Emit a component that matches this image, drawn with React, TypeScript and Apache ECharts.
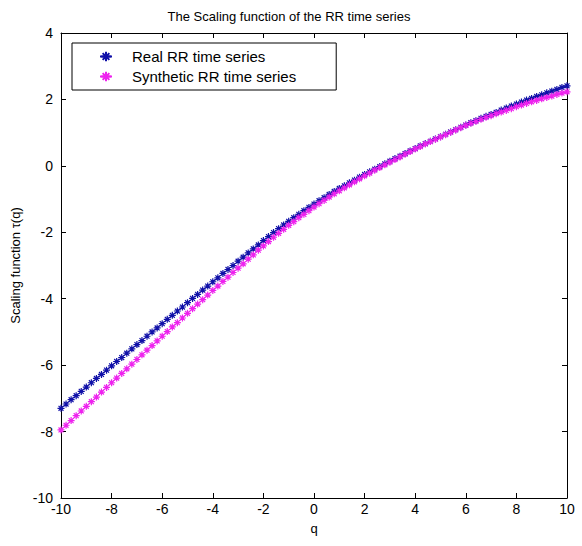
import React, { useEffect, useRef } from "react";
import * as echarts from "echarts";

const TITLE = "The Scaling function of the RR time series";
const X_NAME = "q";
const Y_NAME = "Scaling function \u03c4(q)";
const SERIES_NAMES = ["Real RR time series", "Synthetic RR time series"];

const Q = Array.from({ length: 101 }, (_, i) => Math.round((-10 + i * 0.2) * 10) / 10);

const REAL = [
  -7.30, -7.17, -7.04, -6.92, -6.79, -6.66, -6.53, -6.40, -6.28, -6.15, -6.02,
  -5.89, -5.77, -5.64, -5.51, -5.38, -5.26, -5.13, -5.00, -4.88, -4.75,
  -4.62, -4.50, -4.37, -4.25, -4.12, -3.99, -3.87, -3.74, -3.62, -3.49,
  -3.37, -3.24, -3.12, -3.00, -2.87, -2.75, -2.62, -2.50, -2.38, -2.25,
  -2.13, -2.01, -1.89, -1.78, -1.67, -1.56, -1.46, -1.35, -1.25, -1.15,
  -1.05, -0.96, -0.86, -0.77, -0.68, -0.60, -0.51, -0.43, -0.34, -0.26,
  -0.18, -0.10, -0.02, 0.06, 0.14, 0.22, 0.29, 0.37, 0.45, 0.52,
  0.60, 0.67, 0.74, 0.81, 0.88, 0.95, 1.02, 1.09, 1.16, 1.23,
  1.30, 1.36, 1.43, 1.49, 1.55, 1.61, 1.68, 1.74, 1.80, 1.86,
  1.92, 1.98, 2.03, 2.09, 2.14, 2.20, 2.25, 2.30, 2.36, 2.41,
];

const SYNTH = [
  -7.95, -7.81, -7.67, -7.52, -7.38, -7.24, -7.10, -6.96, -6.81, -6.67, -6.53,
  -6.39, -6.25, -6.11, -5.97, -5.83, -5.69, -5.55, -5.41, -5.27, -5.13,
  -4.99, -4.85, -4.72, -4.58, -4.44, -4.30, -4.16, -4.03, -3.89, -3.75,
  -3.62, -3.48, -3.35, -3.21, -3.08, -2.95, -2.81, -2.68, -2.54, -2.41,
  -2.28, -2.15, -2.03, -1.91, -1.79, -1.68, -1.56, -1.46, -1.35, -1.24,
  -1.14, -1.04, -0.94, -0.84, -0.75, -0.66, -0.57, -0.48, -0.39, -0.30,
  -0.22, -0.13, -0.05, 0.03, 0.11, 0.19, 0.27, 0.35, 0.43, 0.51,
  0.58, 0.66, 0.73, 0.80, 0.87, 0.94, 1.01, 1.08, 1.15, 1.22,
  1.28, 1.34, 1.40, 1.46, 1.51, 1.57, 1.62, 1.67, 1.72, 1.78,
  1.83, 1.88, 1.93, 1.97, 2.02, 2.06, 2.10, 2.15, 2.19, 2.23,
];

const COLORS = ["#1010a8", "#ee22ee"];
const STAR = "path://M5,0L5,10M0,5L10,5M1.5,1.5L8.5,8.5M1.5,8.5L8.5,1.5";
const FONT = "'Liberation Sans Narrow', 'Liberation Sans', Arial, sans-serif";

export default function App() {
  const ref = useRef<HTMLDivElement>(null);
  useEffect(() => {
    if (!ref.current) return;
    const chart = echarts.init(ref.current, null, { renderer: "svg" });
    const axisCommon = {
      axisLine: { show: true, onZero: false, lineStyle: { color: "#000", width: 1 } },
      axisTick: { show: true, inside: true, length: 5, lineStyle: { color: "#000" } },
      splitLine: { show: false },
    };
    const mkSeries = (name: string, vals: number[], color: string) => ({
      name,
      type: "line",
      data: Q.map((q, i) => [q, vals[i]]),
      symbol: STAR,
      symbolSize: 7,
      showSymbol: true,
      itemStyle: { color: "rgba(0,0,0,0)", borderColor: color, borderWidth: 1.2 },
      lineStyle: { color, width: 1 },
      emphasis: { disabled: true },
    });
    chart.setOption({
      animation: false,
      backgroundColor: "#fff",
      title: {
        text: TITLE,
        left: 284,
        top: 5,
        textAlign: "center",
        textStyle: { fontFamily: FONT, fontSize: 13, fontWeight: "normal", color: "#000" },
      },
      legend: {
        orient: "vertical",
        left: 72,
        top: 43,
        width: 237,
        padding: [6, 40, 6, 27],
        itemGap: 5,
        itemWidth: 12,
        itemHeight: 12,
        borderColor: "#000",
        borderWidth: 1,
        backgroundColor: "#fff",
        textStyle: { fontFamily: FONT, fontSize: 15, color: "#000", padding: [0, 0, 0, 15] },
        data: SERIES_NAMES,
      },
      grid: { left: 61, right: 15, top: 33, bottom: 48 },
      xAxis: [
        {
          type: "value",
          min: -10,
          max: 10,
          interval: 2,
          position: "bottom",
          name: X_NAME,
          nameLocation: "middle",
          nameGap: 24,
          nameTextStyle: { fontFamily: FONT, fontSize: 13, color: "#000" },
          axisLabel: { fontFamily: FONT, fontSize: 14, color: "#000", margin: 4 },
          ...axisCommon,
        },
        {
          type: "value",
          min: -10,
          max: 10,
          interval: 2,
          position: "top",
          axisLabel: { show: false },
          ...axisCommon,
        },
      ],
      yAxis: [
        {
          type: "value",
          min: -10,
          max: 4,
          interval: 2,
          position: "left",
          name: Y_NAME,
          nameLocation: "middle",
          nameGap: 36,
          nameRotate: 90,
          nameTextStyle: { fontFamily: FONT, fontSize: 13, color: "#000" },
          axisLabel: { fontFamily: FONT, fontSize: 14, color: "#000", margin: 8 },
          ...axisCommon,
        },
        {
          type: "value",
          min: -10,
          max: 4,
          interval: 2,
          position: "right",
          axisLabel: { show: false },
          ...axisCommon,
        },
      ],
      series: [
        mkSeries(SERIES_NAMES[0], REAL, COLORS[0]),
        mkSeries(SERIES_NAMES[1], SYNTH, COLORS[1]),
      ],
    });
    return () => chart.dispose();
  }, []);
  return (
    <div
      ref={ref}
      style={{ position: "fixed", left: 0, top: 0, width: 582, height: 546, background: "#fff" }}
    />
  );
}
